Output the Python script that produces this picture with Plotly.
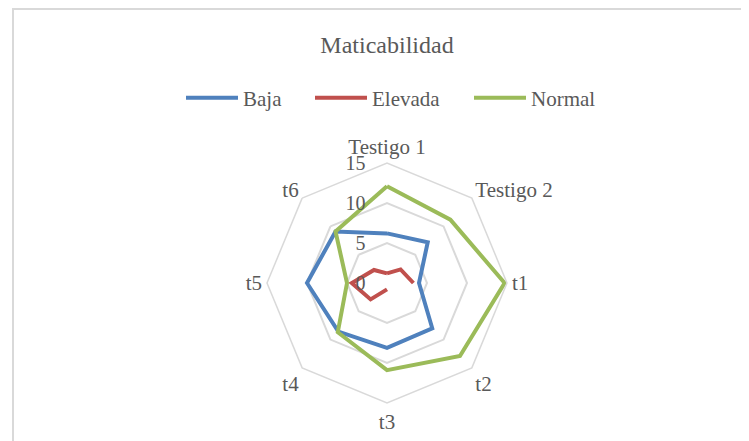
import plotly.graph_objects as go

categories = ["Testigo 1", "Testigo 2", "t1", "t2", "t3", "t4", "t5", "t6"]
baja = [6.2, 7.2, 4.0, 8.0, 8.1, 8.6, 10.0, 9.1]
elevada = [1.2, 2.4, 3.3, None, 0.8, 2.9, 4.4, 2.3]
normal = [12.1, 11.2, 14.7, 12.9, 10.9, 8.7, 5.0, 9.1]
radial_ticks = [0, 5, 10, 15]

W, H = 749, 441
OFF = 8  # browser body margin
font_color = "#595959"
serif = "Liberation Serif"

def closed(vals):
    return vals + [vals[0]]

cats_closed = categories + [categories[0]]

fig = go.Figure()
for name, vals, color, lw in [("Baja", baja, "#4F81BD", 62),
                              ("Elevada", elevada, "#C0504D", 92),
                              ("Normal", normal, "#9BBB59", 66)]:
    fig.add_trace(go.Scatterpolar(
        r=closed(vals), theta=cats_closed, mode="lines", name=name,
        line=dict(color=color, width=4), connectgaps=False,
        legendwidth=lw,
    ))

cx, cy, R = 387 - OFF, 283 - OFF, 120
fig.update_layout(
    width=W, height=H,
    margin=dict(l=0, r=0, t=0, b=0),
    paper_bgcolor="white",
    font=dict(family=serif, color=font_color, size=21),
    title=dict(text="Maticabilidad", x=(387 - OFF) / W, y=1 - (45 - OFF) / H,
               xanchor="center", yanchor="middle",
               font=dict(family=serif, size=24, color=font_color)),
    legend=dict(orientation="h", x=(187 - OFF - 6) / W, y=1 - (98 - OFF) / H,
                xanchor="left", yanchor="middle",
                font=dict(family=serif, size=21, color=font_color),
                itemwidth=52, tracegroupgap=0),
    polar=dict(
        domain=dict(x=[(cx - R) / W, (cx + R) / W],
                    y=[(H - cy - R) / H, (H - cy + R) / H]),
        bgcolor="white",
        gridshape="linear",
        radialaxis=dict(range=[0, 15], tickvals=radial_ticks,
                        showline=False, showgrid=True,
                        gridcolor="#d9d9d9", gridwidth=1.5,
                        angle=90, tickangle=90,
                        ticks="outside", ticklen=14, tickcolor="rgba(0,0,0,0)",
                        side="counterclockwise",
                        tickfont=dict(family=serif, size=20, color=font_color)),
        angularaxis=dict(rotation=90, direction="clockwise",
                         showgrid=False, showline=True,
                         linecolor="#d9d9d9", linewidth=1.5, ticks="",
                         tickfont=dict(family=serif, size=21, color=font_color)),
    ),
    shapes=[dict(type="rect", xref="paper", yref="paper",
                 x0=(13 - OFF) / W, x1=1.05, y0=-0.05, y1=1 - 1 / H,
                 line=dict(color="#d9d9d9", width=2), fillcolor="rgba(0,0,0,0)",
                 layer="below")],
)

fig.write_html("out.html")
